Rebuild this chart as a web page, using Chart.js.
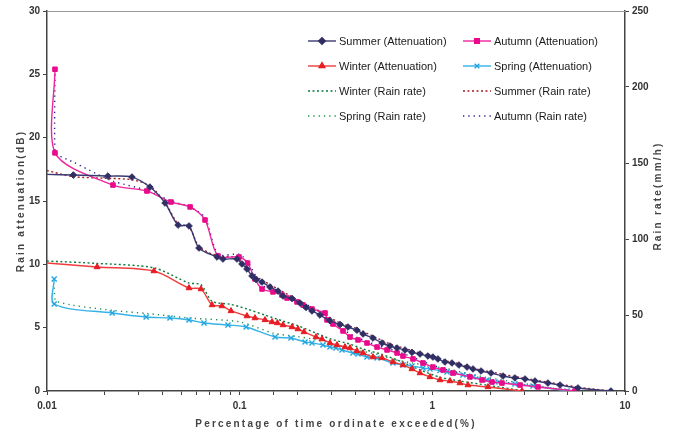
<!DOCTYPE html>
<html><head><meta charset="utf-8">
<script src="https://cdn.jsdelivr.net/npm/chart.js@4.4.1/dist/chart.umd.min.js"></script>
<style>html,body{margin:0;padding:0;background:#fff;}canvas{display:block;}</style>
</head><body>
<canvas id="c" width="683" height="439"></canvas>
<script>
// ---- data (x: percentage of time exceeded, y: dB or mm/h) ----
const summerX = [0.01, 0.0137, 0.0207, 0.0276, 0.0342, 0.041, 0.0479, 0.0546, 0.0615, 0.0763, 0.0819, 0.0968, 0.1028, 0.1091, 0.1159, 0.1216, 0.1306, 0.1436, 0.1581, 0.1679, 0.187, 0.2056, 0.2209, 0.2373, 0.261, 0.294, 0.332, 0.365, 0.406, 0.437, 0.492, 0.548, 0.603, 0.656, 0.721, 0.784, 0.863, 0.949, 1.007, 1.069, 1.163, 1.264, 1.374, 1.514, 1.626, 1.79, 2.016, 2.326, 2.685, 3.027, 3.41, 3.98, 4.6, 5.7, 8.45];
const summerAtt = [17.1, 17.05, 16.97, 16.89, 16.1, 14.84, 13.1, 13.03, 11.29, 10.58, 10.42, 10.42, 10.03, 9.63, 9.08, 8.8, 8.6, 8.21, 7.89, 7.5, 7.3, 6.95, 6.6, 6.32, 6.0, 5.55, 5.25, 5.05, 4.8, 4.5, 4.18, 3.79, 3.55, 3.39, 3.24, 3.05, 2.92, 2.76, 2.68, 2.53, 2.29, 2.21, 2.05, 1.89, 1.74, 1.58, 1.42, 1.18, 1.03, 0.95, 0.79, 0.63, 0.47, 0.24, 0];

const autumnX = [0.011, 0.011, 0.022, 0.033, 0.044, 0.0553, 0.0661, 0.0772, 0.0992, 0.110, 0.120, 0.1306, 0.1489, 0.1658, 0.1761, 0.1984, 0.2132, 0.2373, 0.2773, 0.284, 0.3051, 0.3439, 0.3738, 0.4113, 0.4581, 0.5163, 0.5818, 0.656, 0.7041, 0.7934, 0.8943, 1.007, 1.136, 1.28, 1.568, 1.811, 2.04, 2.298, 2.851, 3.535, 5.5];
const autumnAtt = [25.4, 18.8, 16.26, 15.79, 14.92, 14.53, 13.5, 10.66, 10.58, 10.1, 8.85, 8.05, 7.82, 7.58, 7.34, 7.03, 6.79, 6.47, 6.16, 5.61, 5.29, 4.74, 4.26, 4.03, 3.79, 3.47, 3.24, 3.0, 2.76, 2.53, 2.21, 1.89, 1.66, 1.42, 1.11, 0.87, 0.71, 0.63, 0.47, 0.32, 0];

const winterX = [0.01, 0.0182, 0.0359, 0.0546, 0.063, 0.0719, 0.0809, 0.0902, 0.1091, 0.1201, 0.1354, 0.1472, 0.157, 0.1679, 0.187, 0.2007, 0.2158, 0.249, 0.2675, 0.2943, 0.32, 0.3522, 0.3738, 0.4062, 0.4365, 0.4922, 0.548, 0.6248, 0.7041, 0.784, 0.863, 0.972, 1.096, 1.235, 1.391, 1.531, 1.945, 2.921];
const winterAtt = [10.1, 9.79, 9.47, 8.13, 8.05, 6.79, 6.71, 6.32, 5.92, 5.76, 5.61, 5.45, 5.37, 5.21, 5.05, 4.89, 4.66, 4.26, 4.1, 3.79, 3.63, 3.47, 3.39, 3.16, 3.0, 2.68, 2.61, 2.29, 2.05, 1.74, 1.42, 1.11, 0.87, 0.79, 0.63, 0.47, 0.32, 0];

const springX = [0.0109, 0.0109, 0.0218, 0.0327, 0.0435, 0.0546, 0.0653, 0.087, 0.108, 0.1526, 0.1847, 0.2183, 0.2373, 0.2707, 0.2943, 0.3162, 0.3397, 0.3874, 0.4113, 0.4581, 0.5163, 0.6248, 0.7041, 0.784, 0.8943, 0.9723, 1.0956, 1.192, 1.28, 1.443, 1.626, 1.921, 2.115, 2.685, 3.331, 5.0];
const springAtt = [8.84, 6.87, 6.16, 5.84, 5.76, 5.61, 5.37, 5.21, 5.05, 4.26, 4.18, 3.87, 3.79, 3.63, 3.47, 3.39, 3.24, 3.0, 2.92, 2.68, 2.61, 2.21, 2.05, 1.97, 1.82, 1.74, 1.62, 1.5, 1.42, 1.26, 1.11, 0.87, 0.71, 0.55, 0.39, 0];

const winterRRX = [0.01, 0.018, 0.036, 0.0546, 0.063, 0.0719, 0.09, 0.109, 0.135, 0.168, 0.2, 0.25, 0.3, 0.37, 0.44, 0.55, 0.7, 0.86, 1.1, 1.4, 1.95, 2.9];
const winterRR = [85.5, 84, 81, 71, 70, 59, 57, 54, 50, 46, 43, 38, 34, 31, 27.5, 24, 19, 14, 9, 6.5, 3.7, 0.3];

const summerRRX = [0.01, 0.0137, 0.02, 0.0276, 0.0342, 0.041, 0.0479, 0.0546, 0.0615, 0.0763, 0.0968, 0.1028, 0.1159, 0.1306, 0.158, 0.187, 0.221, 0.261, 0.33, 0.406, 0.492, 0.603, 0.72, 0.863, 1.0, 1.163, 1.374, 1.626, 2.016, 2.685, 3.41, 4.6, 5.7, 8.45];
const summerRR = [145, 141, 140, 139, 135, 124, 110, 108, 95, 89, 88, 85, 77, 73, 67, 62, 57, 52, 45, 41, 36, 31, 28, 25, 23, 20, 18, 15, 12.5, 9.5, 7.2, 4.5, 2.5, 0];

const springRRX = [0.0109, 0.0112, 0.022, 0.033, 0.055, 0.1, 0.15, 0.2, 0.25, 0.3, 0.34, 0.41, 0.52, 0.62, 0.78, 0.97, 1.2, 1.44, 1.9, 2.7, 3.3, 5.0];
const springRR = [68, 59, 53, 51, 48, 45.5, 38, 35.8, 33.7, 31.2, 29.5, 26.8, 24, 21, 18.5, 16.6, 14.6, 12.2, 9, 5.8, 4, 0.3];

const autumnRRX = [0.011, 0.011, 0.0115, 0.014, 0.018, 0.022, 0.033, 0.044, 0.0553, 0.0661, 0.0772, 0.0992, 0.11, 0.13, 0.166, 0.2, 0.24, 0.28, 0.34, 0.41, 0.52, 0.66, 0.8, 1.0, 1.28, 1.8, 2.3, 2.85, 3.5, 5.5];
const autumnRR = [211.7, 157, 155, 150, 143, 138, 132, 125, 121, 114, 90, 90, 85, 70, 64, 59, 55, 50, 41, 35, 30, 26, 22, 17, 13, 8.5, 6, 4.5, 3, 0];

const xTickLabels = ['0.01', '0.1', '1', '10'];
const leftTicks = [0, 5, 10, 15, 20, 25, 30];
const rightTicks = [0, 50, 100, 150, 200, 250];

const xTitle = 'Percentage of time ordinate exceeded(%)';
const yTitle = 'Rain attenuation(dB)';
const y2Title = 'Rain rate(mm/h)';

// ---- build ----
const FONT = "'Liberation Sans', Arial, sans-serif";
const pts = (xs, ys) => xs.map((x, i) => ({x: x, y: ys[i]}));
const skipFirst = r => c => c.dataIndex === 0 ? 0 : r;

const att = (label, xs, ys, color, line, style, radius, first) => ({
  label, data: pts(xs, ys), yAxisID: 'y',
  borderColor: line, backgroundColor: color, borderWidth: 1.4,
  pointStyle: style, pointRadius: first ? skipFirst(radius) : radius,
  pointBackgroundColor: color, pointBorderColor: color,
  pointBorderWidth: style === 'crossRot' ? 1.4 : 1,
  tension: 0.3, legendMarker: true
});
const rr = (label, xs, ys, color, dash) => ({
  label, data: pts(xs, ys), yAxisID: 'y2',
  borderColor: color, backgroundColor: color, borderWidth: 1.4,
  borderDash: dash, pointRadius: 0, tension: 0.25, legendMarker: false
});

const datasets = [
  att('Summer (Attenuation)', summerX, summerAtt, '#2F2F66', '#3A3A72', 'rectRot', 3.3, true),
  att('Autumn (Attenuation)', autumnX, autumnAtt, '#EA0A8C', '#F0249E', 'rect', 3.2, false),
  att('Winter (Attenuation)', winterX, winterAtt, '#E61E24', '#F03C3C', 'triangle', 3.4, true),
  att('Spring (Attenuation)', springX, springAtt, '#22A6E0', '#35B2E8', 'crossRot', 3.6, false),
  rr('Winter (Rain rate)', winterRRX, winterRR, '#0B7A3E', [2, 2.5]),
  rr('Summer (Rain rate)', summerRRX, summerRR, '#9E1E26', [2, 2.5]),
  rr('Spring (Rain rate)', springRRX, springRR, '#1E8F50', [1.3, 4]),
  rr('Autumn (Rain rate)', autumnRRX, autumnRR, '#23238A', [1.3, 4])
];

const legendPlugin = {
  id: 'insideLegend',
  afterDraw(chart) {
    const ctx = chart.ctx;
    const cols = [308, 463], rows = [41, 66, 91, 116];
    chart.data.datasets.forEach((ds, i) => {
      const x0 = cols[i % 2], y = rows[Math.floor(i / 2)];
      ctx.save();
      ctx.strokeStyle = ds.borderColor;
      ctx.lineWidth = ds.borderWidth;
      ctx.setLineDash(ds.borderDash || []);
      ctx.beginPath(); ctx.moveTo(x0, y); ctx.lineTo(x0 + 28, y); ctx.stroke();
      ctx.setLineDash([]);
      if (ds.legendMarker) {
        ctx.fillStyle = ds.pointBackgroundColor;
        ctx.strokeStyle = ds.pointBorderColor;
        Chart.helpers.drawPoint(ctx, {pointStyle: ds.pointStyle, radius: 3.3, rotation: 0, borderWidth: ds.pointBorderWidth}, x0 + 14, y);
      }
      ctx.fillStyle = '#1a1a1a';
      ctx.font = '11px ' + FONT;
      ctx.textBaseline = 'middle';
      ctx.textAlign = 'left';
      ctx.fillText(ds.label, x0 + 31, y + 0.5);
      ctx.restore();
    });
  }
};

const framePlugin = {
  id: 'frameTitles',
  beforeDatasetsDraw(chart) {
    const {ctx, chartArea: a} = chart;
    ctx.save();
    ctx.strokeStyle = '#9a9a9a'; ctx.lineWidth = 1;
    ctx.beginPath(); ctx.moveTo(a.left, a.top + 0.5); ctx.lineTo(a.right, a.top + 0.5); ctx.stroke();
    ctx.restore();
  },
  afterDraw(chart) {
    const {ctx, chartArea: a} = chart;
    ctx.save();
    ctx.font = 'bold 10px ' + FONT;
    ctx.fillStyle = '#444';
    try { ctx.letterSpacing = '2.2px'; } catch (e) {}
    ctx.textAlign = 'center';
    ctx.textBaseline = 'middle';
    ctx.fillText(xTitle, (a.left + a.right) / 2, 424);
    ctx.save();
    ctx.translate(21, (a.top + a.bottom) / 2);
    ctx.rotate(-Math.PI / 2);
    ctx.fillText(yTitle, 0, 0);
    ctx.restore();
    ctx.save();
    ctx.translate(658, 196);
    ctx.rotate(-Math.PI / 2);
    ctx.fillText(y2Title, 0, 0);
    ctx.restore();
    ctx.restore();
  }
};

const tickFont = {family: FONT, size: 10, weight: 'bold'};
const axisCol = '#444';

new Chart(document.getElementById('c'), {
  type: 'line',
  data: {datasets},
  options: {
    responsive: false, animation: false, devicePixelRatio: 1,
    layout: {padding: {top: 11, left: 0, right: 0, bottom: 0}},
    plugins: {legend: {display: false}, tooltip: {enabled: false}, title: {display: false}},
    scales: {
      x: {
        type: 'logarithmic', position: 'bottom', min: 0.01, max: 10,
        grid: {drawOnChartArea: false, drawTicks: true, tickLength: 4, color: axisCol},
        border: {display: true, color: axisCol, width: 1.5},
        ticks: {
          autoSkip: false, maxRotation: 0, padding: 5, color: '#333', font: tickFont,
          callback(v) {
            const s = xTickLabels.find(t => Math.abs(Number(t) - v) < 1e-9 * Math.max(1, v));
            return s === undefined ? '' : s;
          }
        },
        afterFit(s) { s.height = 48; }
      },
      y: {
        type: 'linear', position: 'left', min: 0, max: 30,
        afterBuildTicks(s) { s.ticks = leftTicks.map(v => ({value: v})); },
        grid: {drawOnChartArea: false, tickLength: 4, color: axisCol},
        border: {display: true, color: axisCol, width: 1.5},
        ticks: {padding: 3, color: '#333', font: tickFont},
        afterFit(s) { s.width = 47; }
      },
      y2: {
        type: 'linear', position: 'right', min: 0, max: 250,
        afterBuildTicks(s) { s.ticks = rightTicks.map(v => ({value: v})); },
        grid: {drawOnChartArea: false, tickLength: 4, color: axisCol},
        border: {display: true, color: axisCol, width: 1.5},
        ticks: {padding: 3, color: '#333', font: tickFont},
        afterFit(s) { s.width = 58; }
      }
    }
  },
  plugins: [legendPlugin, framePlugin]
});
</script>
</body></html>
